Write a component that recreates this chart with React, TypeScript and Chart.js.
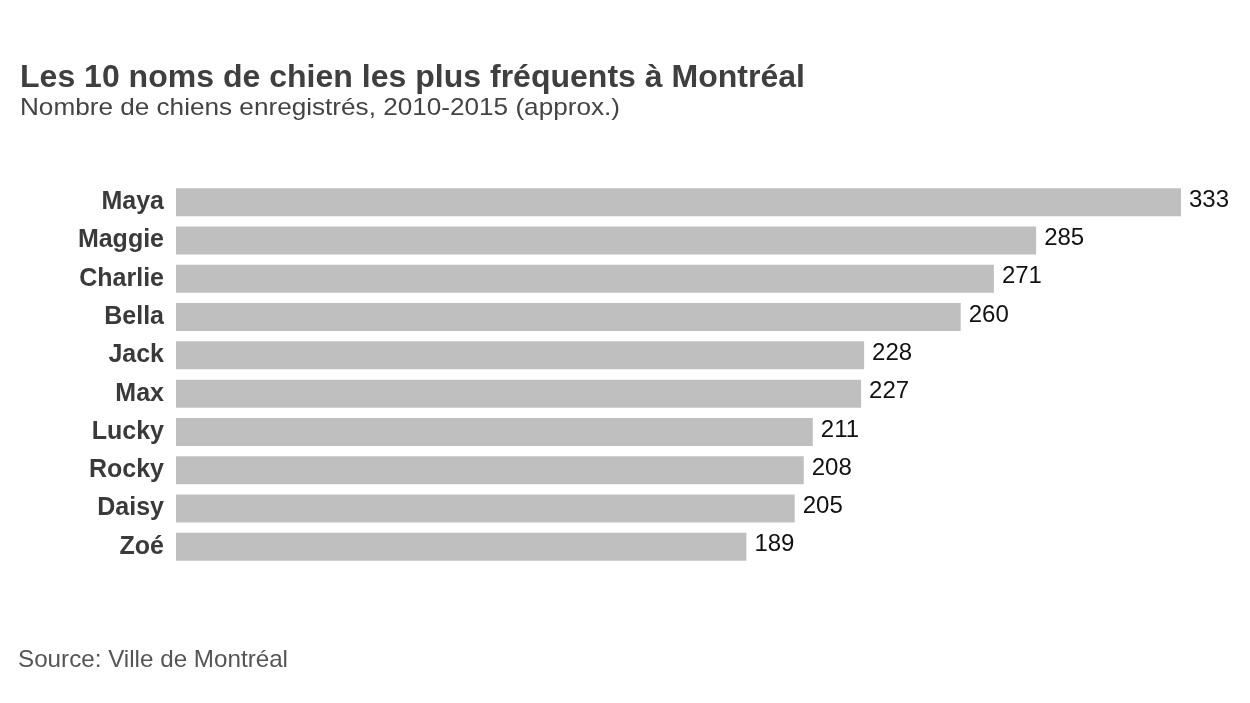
import React, { useEffect, useRef } from "react";
import { Chart, registerables } from "chart.js";

Chart.register(...registerables);

const names = ["Maya", "Maggie", "Charlie", "Bella", "Jack", "Max", "Lucky", "Rocky", "Daisy", "Zoé"];
const counts = [333, 285, 271, 260, 228, 227, 211, 208, 205, 189];
const titleText = "Les 10 noms de chien les plus fréquents à Montréal";
const subtitleText = "Nombre de chiens enregistrés, 2010-2015 (approx.)";
const sourceText = "Source: Ville de Montréal";

const FONT = "'Liberation Sans', Arial, Helvetica, sans-serif";

function fitText(ctx: CanvasRenderingContext2D, text: string, x: number, y: number, width: number) {
  const w = ctx.measureText(text).width;
  ctx.save();
  ctx.translate(x, y);
  ctx.scale(width / w, 1);
  ctx.fillText(text, 0, 0);
  ctx.restore();
}

export default function App() {
  const ref = useRef<HTMLCanvasElement | null>(null);
  useEffect(() => {
    if (!ref.current) return;
    const textPlugin = {
      id: "texts",
      afterDatasetsDraw(chart: any) {
        const ctx = chart.ctx;
        ctx.save();
        const meta = chart.getDatasetMeta(0);
        ctx.fillStyle = "#111";
        ctx.font = `24px ${FONT}`;
        ctx.textAlign = "left";
        ctx.textBaseline = "middle";
        meta.data.forEach((el: any, i: number) => {
          ctx.fillText(String(counts[i]), el.x + 8, el.y - 2);
        });
        ctx.restore();
      },
      afterDraw(chart: any) {
        const ctx = chart.ctx;
        ctx.save();
        ctx.textAlign = "left";
        ctx.textBaseline = "alphabetic";
        ctx.fillStyle = "#3f3f3f";
        ctx.font = `bold 32px ${FONT}`;
        fitText(ctx, titleText, 20, 87, 785);
        ctx.fillStyle = "#444";
        ctx.font = `24px ${FONT}`;
        fitText(ctx, subtitleText, 20, 115, 600);
        ctx.fillStyle = "#555";
        ctx.font = `24px ${FONT}`;
        fitText(ctx, sourceText, 18, 667, 270);
        ctx.restore();
      },
    };
    const chart = new Chart(ref.current, {
      type: "bar",
      data: {
        labels: names,
        datasets: [
          {
            data: counts,
            backgroundColor: "#bfbfbf",
            borderWidth: 0,
            barPercentage: 0.73,
            categoryPercentage: 1,
          },
        ],
      },
      options: {
        indexAxis: "y",
        animation: false,
        responsive: false,
        maintainAspectRatio: false,
        layout: { padding: { left: 0, right: 69, top: 183, bottom: 137 } },
        plugins: {
          legend: { display: false },
          title: { display: false },
          tooltip: { enabled: false },
        },
        scales: {
          x: {
            display: false,
            min: 0,
            max: 333,
          },
          y: {
            afterFit(scale: any) {
              scale.width = 176;
            },
            grid: { display: false, drawTicks: false },
            border: { display: false },
            ticks: {
              padding: 12,
              color: "#3a3a3a",
              font: { family: FONT, size: 25, weight: "bold" },
            },
          },
        },
      },
      plugins: [textPlugin],
    });
    return () => chart.destroy();
  }, []);
  return (
    <div style={{ position: "fixed", left: 0, top: 0, width: 1250, height: 703, background: "#fff" }}>
      <canvas ref={ref} width={1250} height={703} style={{ width: 1250, height: 703 }} />
    </div>
  );
}
